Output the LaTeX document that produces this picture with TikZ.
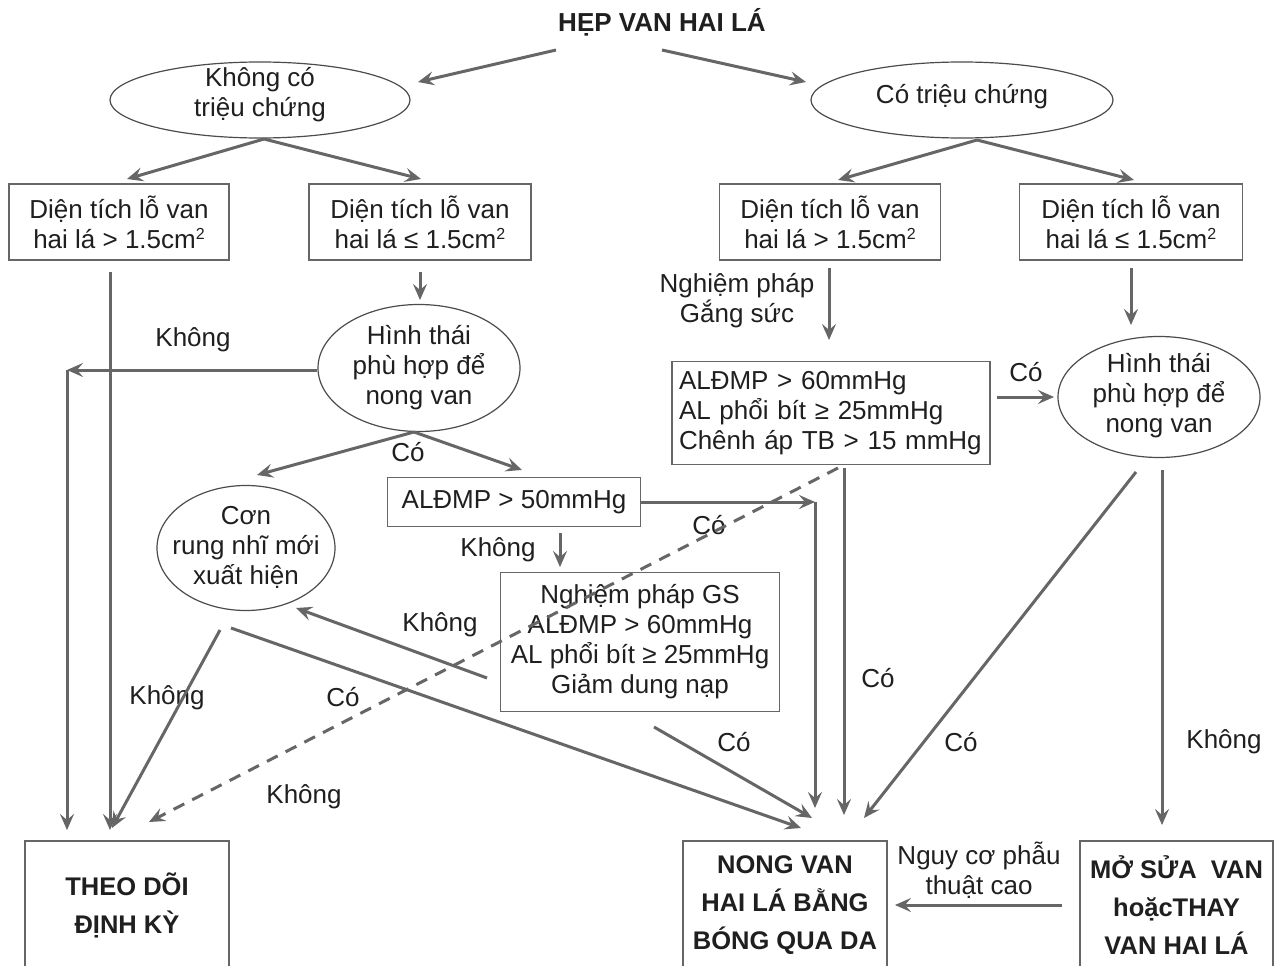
\documentclass[tikz,border=0pt]{standalone}
\usepackage{fontspec}
\setmainfont{Liberation Sans}
\usetikzlibrary{shapes.geometric,arrows.meta}
\newcommand{\sqtwo}{\raisebox{9pt}{\fontsize{16}{16}\selectfont 2}}
\begin{document}
\begin{tikzpicture}[x=1pt,y=-1pt,
  every node/.style={text=black!88, font=\fontsize{26}{30}\selectfont, inner sep=0pt},
  box/.style={draw=black!60, line width=1.3pt, rectangle, align=center},
  oval/.style={draw=black!70, line width=1.2pt, ellipse},
  endbox/.style={box, font=\bfseries\fontsize{25.5}{38}\selectfont},
  lbl/.style={align=center},
  conn/.style={draw=black!60, line width=3pt, -{Stealth[length=16pt,width=14pt,inset=6pt]}},
  dashconn/.style={conn, dash pattern=on 12pt off 9pt},
]
\useasboundingbox (0,0) rectangle (1278,966);
\clip (0,0) rectangle (1278,966);
\fill[white] (0,0) rectangle (1278,966);

% ---- title ----
\node[font=\bfseries\fontsize{26}{30}\selectfont] (title) at (662,22) {HẸP VAN HAI LÁ};

% ---- first split ----
\node[oval, minimum width=300pt, minimum height=76pt] (e1) at (260,100) {};
\node[lbl] (e1t) at (260,95) {Không có\\triệu chứng};
\node[oval, minimum width=302pt, minimum height=76pt] (e2) at (962,100) {};
\node[lbl] (e2t) at (962,97) {Có triệu chứng};

% ---- valve area boxes ----
\node[box, minimum width=220pt, minimum height=76pt] (b1) at (119,222) {Diện tích lỗ van\\hai lá > 1.5cm\sqtwo};
\node[box, minimum width=222pt, minimum height=76pt] (b2) at (420,222) {Diện tích lỗ van\\hai lá ≤ 1.5cm\sqtwo};
\node[box, minimum width=221pt, minimum height=76pt] (b3) at (830,222) {Diện tích lỗ van\\hai lá > 1.5cm\sqtwo};
\node[box, minimum width=223pt, minimum height=76pt] (b4) at (1131,222) {Diện tích lỗ van\\hai lá ≤ 1.5cm\sqtwo};

% ---- morphology ovals ----
\node[oval, minimum width=202pt, minimum height=127pt] (e3) at (419,368) {};
\node[lbl] (e3t) at (419,368) {Hình thái\\phù hợp để\\nong van};
\node[oval, minimum width=202pt, minimum height=121pt] (e5) at (1159,397) {};
\node[lbl] (e5t) at (1159,396) {Hình thái\\phù hợp để\\nong van};
\node[oval, minimum width=178pt, minimum height=125pt] (e4) at (246,548) {};
\node[lbl] (e4t) at (246,547) {Cơn\\rung nhĩ mới\\xuất hiện};

% ---- pressure boxes ----
\node[box, minimum width=253pt, minimum height=49pt] (b5) at (514,502) {ALĐMP > 50mmHg};
\node[box, minimum width=279pt, minimum height=139pt] (b6) at (640,642) {Nghiệm pháp GS\\ALĐMP > 60mmHg\\AL phổi bít ≥ 25mmHg\\Giảm dung nạp};
\node[box, align=left, text width=304pt, inner xsep=7pt, minimum height=103pt] (b7) at (831,413) {ALĐMP > 60mmHg\\AL phổi bít ≥ 25mmHg\\Chênh áp TB > 15 mmHg};

% ---- outcomes ----
\node[endbox, minimum width=204pt, minimum height=128pt] (theo) at (127,905) {THEO DÕI\\ĐỊNH KỲ};
\node[endbox, minimum width=204pt, minimum height=128pt] (nong) at (785,905) {NONG VAN\\HAI LÁ BẰNG\\BÓNG QUA DA};
\node[endbox, minimum width=193pt, minimum height=128pt] (mo) at (1176.5,905) {MỞ SỬA\ \ VAN\\hoặcTHAY\\VAN HAI LÁ};

% ---- branch labels ----
\node (l1) at (193,340) {Không};
\node (l2) at (408,452) {Có};
\node (l3) at (498,550) {Không};
\node (l4) at (440,625) {Không};
\node (l5) at (167,698) {Không};
\node (l6) at (343,697) {Có};
\node (l7) at (304,797) {Không};
\node (l8) at (709,525) {Có};
\node (l9) at (734,742) {Có};
\node (l10) at (878,678) {Có};
\node (l11) at (961,742) {Có};
\node (l12) at (1224,742) {Không};
\node (l13) at (1026,372) {Có};
\node[lbl] (l14) at (737,301) {Nghiệm pháp\\Gắng sức};
\node[lbl] (l15) at (979,870) {Nguy cơ phẫu\\thuật cao};

% ---- connector end points ----
\coordinate (t1) at (556,50);   \coordinate (t1e) at (418,82);
\coordinate (t2) at (662,50);   \coordinate (t2e) at (806,82);
\coordinate (s1) at (264,139);  \coordinate (s1a) at (127,179); \coordinate (s1b) at (421,179);
\coordinate (s2) at (977,140);  \coordinate (s2a) at (838,180); \coordinate (s2b) at (1134,180);
\coordinate (d2) at (420,272);  \coordinate (d2e) at (420,300);
\coordinate (d1) at (110,272);  \coordinate (d1e) at (110,830);
\coordinate (k1) at (67,370);   \coordinate (k1e) at (67,830);
\coordinate (m3) at (414,432);  \coordinate (m3a) at (257,475); \coordinate (m3b) at (522,470);
\coordinate (k2) at (815,502);  \coordinate (k2e) at (815,808);
\coordinate (d5) at (560,533);  \coordinate (d5e) at (560,567);
\coordinate (g6) at (487,678);  \coordinate (g6e) at (296,608);
\coordinate (c4a) at (220,630); \coordinate (c4ae) at (112,828);
\coordinate (c4b) at (231,628); \coordinate (c4be) at (801,828);
\coordinate (g6b) at (654,727); \coordinate (g6be) at (812,818);
\coordinate (d7) at (844,468);  \coordinate (d7e) at (844,815);
\coordinate (q7) at (838,468);  \coordinate (q7e) at (149,822);
\coordinate (d3) at (829,268);  \coordinate (d3e) at (829,340);
\coordinate (d4) at (1131,268); \coordinate (d4e) at (1131,325);
\coordinate (r7) at (997,397);  \coordinate (r7e) at (1054,397);
\coordinate (f5a) at (1136,472); \coordinate (f5ae) at (864,818);
\coordinate (f5b) at (1162,470); \coordinate (f5be) at (1162,825);
\coordinate (h1) at (1062,905); \coordinate (h1e) at (895,905);

% ---- connectors ----
\draw[conn] (t1) -- (t1e);
\draw[conn] (t2) -- (t2e);
\draw[conn] (s1) -- (s1a);
\draw[conn] (s1) -- (s1b);
\draw[conn] (s2) -- (s2a);
\draw[conn] (s2) -- (s2b);
\draw[conn] (d2) -- (d2e);
\draw[conn] (d1) -- (d1e);
\draw[conn] (e3.west |- k1) -- (k1);
\draw[conn] (k1) -- (k1e);
\draw[conn] (m3) -- (m3a);
\draw[conn] (m3) -- (m3b);
\draw[conn] (b5.east) -- (k2);
\draw[conn] (k2) -- (k2e);
\draw[conn] (d5) -- (d5e);
\draw[conn] (g6) -- (g6e);
\draw[conn] (c4a) -- (c4ae);
\draw[conn] (c4b) -- (c4be);
\draw[conn] (g6b) -- (g6be);
\draw[conn] (d7) -- (d7e);
\draw[dashconn] (q7) -- (q7e);
\draw[conn] (d3) -- (d3e);
\draw[conn] (d4) -- (d4e);
\draw[conn] (r7) -- (r7e);
\draw[conn] (f5a) -- (f5ae);
\draw[conn] (f5b) -- (f5be);
\draw[conn] (h1) -- (h1e);
\end{tikzpicture}
\end{document}
